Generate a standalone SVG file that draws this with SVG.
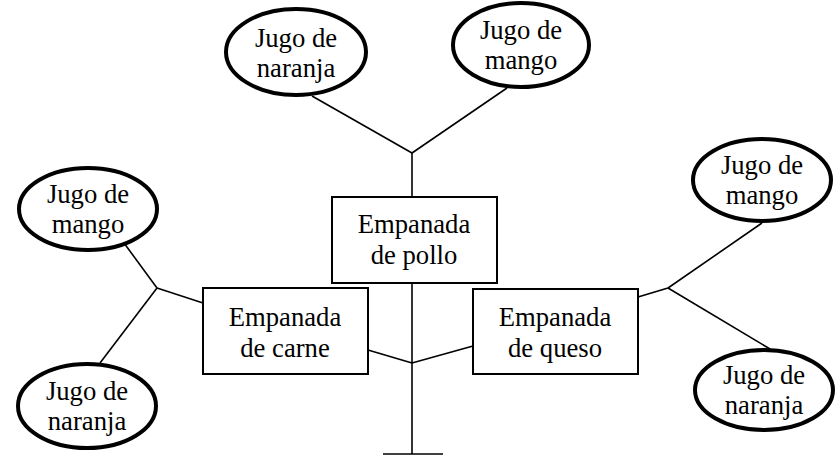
<svg xmlns="http://www.w3.org/2000/svg" width="840" height="456" viewBox="0 0 840 456">
<style>
  .jugo { fill: #fff; stroke: #000; stroke-width: 4; }
  .box { fill: #fff; stroke: #000; stroke-width: 2; }
  .ln { stroke: #000; stroke-width: 1.6; fill: none; }
  text { font-family: "Liberation Serif", "Times New Roman", serif; font-size: 26.67px; fill: #000; text-anchor: middle; }
</style>
<rect width="840" height="456" fill="#fff"/>
<g id="connectors">
  <line class="ln" x1="312" y1="96" x2="412" y2="153"/>
  <line class="ln" x1="507" y1="88" x2="412" y2="153"/>
  <line class="ln" x1="412" y1="153" x2="412" y2="197"/>
  <line class="ln" x1="412" y1="283" x2="412" y2="454"/>
  <line class="ln" x1="383" y1="454" x2="443" y2="454"/>
  <line class="ln" x1="368" y1="350" x2="412" y2="363"/>
  <line class="ln" x1="473" y1="346" x2="412" y2="363"/>
  <line class="ln" x1="113" y1="228" x2="157" y2="288"/>
  <line class="ln" x1="100" y1="363" x2="157" y2="288"/>
  <line class="ln" x1="157" y1="288" x2="203" y2="303"/>
  <line class="ln" x1="762" y1="223" x2="668" y2="288"/>
  <line class="ln" x1="770" y1="349" x2="668" y2="288"/>
  <line class="ln" x1="668" y1="288" x2="638" y2="297"/>
</g>
<g id="jugo-naranja-top">
  <ellipse class="jugo" cx="296" cy="52" rx="70" ry="43"/>
  <text x="296" y="47">Jugo de</text>
  <text x="296" y="77">naranja</text>
</g>
<g id="jugo-mango-top">
  <ellipse class="jugo" cx="521" cy="45" rx="68" ry="42"/>
  <text x="521" y="39">Jugo de</text>
  <text x="521" y="69">mango</text>
</g>
<g id="empanada-pollo">
  <rect class="box" x="332" y="197" width="165" height="86"/>
  <text x="414" y="233">Empanada</text>
  <text x="414" y="264">de pollo</text>
</g>
<g id="empanada-carne">
  <rect class="box" x="203" y="288" width="165" height="86"/>
  <text x="285" y="326">Empanada</text>
  <text x="285" y="357">de carne</text>
</g>
<g id="empanada-queso">
  <rect class="box" x="473" y="289" width="165" height="85"/>
  <text x="555" y="326">Empanada</text>
  <text x="555" y="357">de queso</text>
</g>
<g id="jugo-mango-left">
  <ellipse class="jugo" cx="88" cy="209" rx="69" ry="41"/>
  <text x="88" y="203">Jugo de</text>
  <text x="88" y="233">mango</text>
</g>
<g id="jugo-naranja-left">
  <ellipse class="jugo" cx="87" cy="406" rx="69" ry="42"/>
  <text x="87" y="400">Jugo de</text>
  <text x="87" y="430">naranja</text>
</g>
<g id="jugo-mango-right">
  <ellipse class="jugo" cx="762" cy="180" rx="69" ry="41"/>
  <text x="762" y="174">Jugo de</text>
  <text x="762" y="204">mango</text>
</g>
<g id="jugo-naranja-right">
  <ellipse class="jugo" cx="764" cy="390" rx="69" ry="40"/>
  <text x="764" y="384">Jugo de</text>
  <text x="764" y="414">naranja</text>
</g>
</svg>
